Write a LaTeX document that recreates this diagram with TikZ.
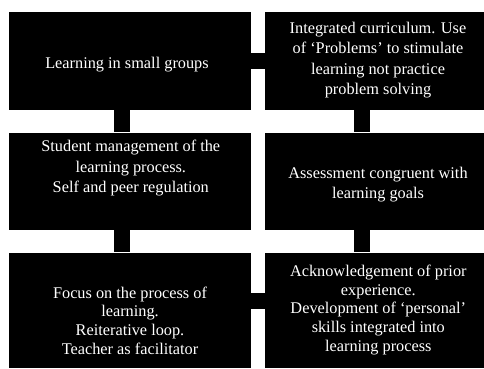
\documentclass[tikz,border=0pt]{standalone}
\usepackage{fontspec}
\setmainfont{Liberation Serif}
\begin{document}
\begin{tikzpicture}[x=1pt,y=-1pt,
  box/.style={rectangle, fill=black, draw=none, inner sep=0pt},
  lbox/.style={box, minimum width=242pt},
  rbox/.style={box, minimum width=219pt},
  txt/.style={anchor=north, inner sep=0pt, text=white, align=center,
    font=\fontsize{16.3}{20.5}\selectfont},
  txtlow/.style={txt, font=\fontsize{16.3}{18.6}\selectfont},
  link/.style={draw=black, line width=16pt}]
\useasboundingbox (0,0) rectangle (484,368);
\fill[white] (0,0) rectangle (484,368);

% boxes, left column
\node[lbox, minimum height=98pt]    (a) at (130,61) {};
\node[lbox, minimum height=97.5pt]  (c) at (130,181.25) {};
\node[lbox, minimum height=115.5pt] (e) at (130,310.25) {};
% boxes, right column
\node[rbox, minimum height=98pt]    (b) at (374.5,61) {};
\node[rbox, minimum height=97.5pt]  (d) at (374.5,181.25) {};
\node[rbox, minimum height=115.5pt] (f) at (374.5,310.25) {};

% connectors
\draw[link] (a.east) -- (b.west);
\coordinate (m2) at ([yshift=9.45pt]e.east);
\draw[link] (m2) -- (m2 -| f.west);
\draw[link] ([xshift=-7.7pt]a.south) -- ([xshift=-7.7pt]c.north);
\draw[link] ([xshift=-7.7pt]c.south) -- ([xshift=-7.7pt]e.north);
\draw[link] ([xshift=-12.2pt]b.south) -- ([xshift=-12.2pt]d.north);
\draw[link] ([xshift=-12.2pt]d.south) -- ([xshift=-12.2pt]f.north);

% labels
\node[txt] (ta) at (127,56.5) {Learning in small groups};
\node[txt] (tb) at (378,21.7)
  {Integrated curriculum. Use\\of `Problems' to stimulate\\learning not practice\\problem solving};
\node[txt] (tc) at (130.8,140)
  {Student management of the\\learning process.\\Self and peer regulation};
\node[txt] (td) at (378,166.7)
  {Assessment congruent with\\learning goals};
\node[txtlow] (te) at (130,286.7)
  {Focus on the process of\\learning.\\Reiterative loop.\\Teacher as facilitator};
\node[txtlow] (tf) at (378.3,265)
  {Acknowledgement of prior\\experience.\\Development of `personal'\\skills integrated into\\learning process};
\end{tikzpicture}
\end{document}
